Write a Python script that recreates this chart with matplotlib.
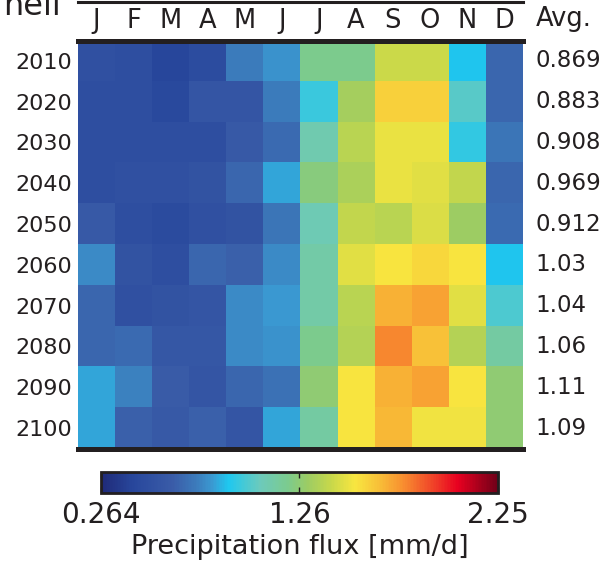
import numpy as np
import matplotlib
matplotlib.use("Agg")
import matplotlib.pyplot as plt
from matplotlib.colors import LinearSegmentedColormap
from matplotlib.lines import Line2D

months = ["J", "F", "M", "A", "M", "J", "J", "A", "S", "O", "N", "D"]
decades = ["2010", "2020", "2030", "2040", "2050", "2060", "2070", "2080", "2090", "2100"]
avg_labels = ["0.869", "0.883", "0.908", "0.969", "0.912", "1.03", "1.04", "1.06", "1.11", "1.09"]

r2010 = [0.52, 0.50, 0.42, 0.48, 0.74, 0.80, 1.20, 1.20, 1.42, 1.42, 0.90, 0.66]
r2020 = [0.50, 0.50, 0.45, 0.56, 0.56, 0.74, 0.96, 1.32, 1.60, 1.60, 1.02, 0.66]
r2030 = [0.50, 0.50, 0.50, 0.50, 0.60, 0.68, 1.10, 1.38, 1.50, 1.50, 0.94, 0.72]
r2040 = [0.50, 0.52, 0.52, 0.54, 0.66, 0.84, 1.24, 1.34, 1.50, 1.48, 1.40, 0.66]
r2050 = [0.60, 0.50, 0.47, 0.52, 0.54, 0.72, 1.08, 1.40, 1.38, 1.46, 1.30, 0.68]
r2060 = [0.78, 0.54, 0.50, 0.66, 0.64, 0.78, 1.12, 1.48, 1.54, 1.58, 1.54, 0.90]
r2070 = [0.66, 0.52, 0.54, 0.56, 0.78, 0.82, 1.12, 1.38, 1.69, 1.73, 1.48, 1.00]
r2080 = [0.66, 0.68, 0.58, 0.58, 0.78, 0.80, 1.20, 1.36, 1.79, 1.65, 1.36, 1.14]
r2090 = [0.84, 0.76, 0.62, 0.56, 0.66, 0.70, 1.26, 1.54, 1.69, 1.73, 1.54, 1.26]
r2100 = [0.84, 0.64, 0.60, 0.64, 0.56, 0.84, 1.14, 1.54, 1.67, 1.52, 1.52, 1.26]

vmin, vmax = 0.264, 2.25
cbar_ticks = [0.264, 1.257, 2.25]
cbar_ticklabels = ["0.264", "1.26", "2.25"]

data = np.array([r2010, r2020, r2030, r2040, r2050, r2060, r2070, r2080, r2090, r2100])

cmap = LinearSegmentedColormap.from_list("precip", [
    (0.00, "#1f2a78"), (0.08, "#28479c"), (0.18, "#3a5ca8"), (0.24, "#3c7cbc"),
    (0.28, "#3a9ad2"), (0.32, "#1ec8f0"), (0.40, "#6ccabc"), (0.47, "#7ccb8e"),
    (0.52, "#9ccc64"), (0.58, "#c8d84a"), (0.64, "#f8e640"), (0.70, "#f8c038"),
    (0.76, "#f89030"), (0.84, "#f04028"), (0.90, "#e80020"), (1.00, "#700018")])

W, H = 607, 566
fig = plt.figure(figsize=(W / 100, H / 100), dpi=100)

ax = fig.add_axes([78 / W, 1 - 448.5 / H, 444.5 / W, 408 / H])
im = ax.imshow(data, cmap=cmap, vmin=vmin, vmax=vmax, aspect="auto", interpolation="nearest")
for s in ["left", "right"]:
    ax.spines[s].set_visible(False)
for s in ["top", "bottom"]:
    ax.spines[s].set_linewidth(3.6)
    ax.spines[s].set_color("#231f20")

ax.xaxis.tick_top()
ax.set_xticks(range(len(months)))
ax.set_xticklabels(months, fontsize=18.5, color="#231f20")
ax.set_yticks(range(len(decades)))
ax.set_yticklabels(decades, fontsize=16, color="#231f20")
ax.tick_params(length=0, pad=4)
ax.tick_params(axis="x", pad=5)

for i, lab in enumerate(avg_labels):
    ax.text(1.03, 1 - (i + 0.5) / len(decades), lab, transform=ax.transAxes,
            ha="left", va="center", fontsize=16.5, color="#231f20")
ax.text(1.03, 1.0 + 21 / 408, "Avg.", transform=ax.transAxes, ha="left", va="center",
        fontsize=18.5, color="#231f20")

fig.add_artist(Line2D([78 / W, 522.5 / W], [1 - 1.5 / H, 1 - 1.5 / H], color="#231f20",
                      linewidth=2.2, transform=fig.transFigure))
fig.text(61 / W, 1 - 15 / H, "nell", ha="right", va="baseline", fontsize=23, color="#231f20")

cax = fig.add_axes([101 / W, 1 - 493 / H, 397 / W, 21 / H])
cb = fig.colorbar(im, cax=cax, orientation="horizontal", ticks=cbar_ticks)
cb.set_ticklabels(cbar_ticklabels)
cb.outline.set_linewidth(2)
cb.outline.set_edgecolor("#231f20")
cax.tick_params(axis="x", direction="in", length=4, width=1, top=True, bottom=True,
                labelsize=20, pad=6, colors="#231f20")
cb.set_label("Precipitation flux [mm/d]", fontsize=19.5, color="#231f20", labelpad=3)

fig.savefig("out.png", dpi=100)
